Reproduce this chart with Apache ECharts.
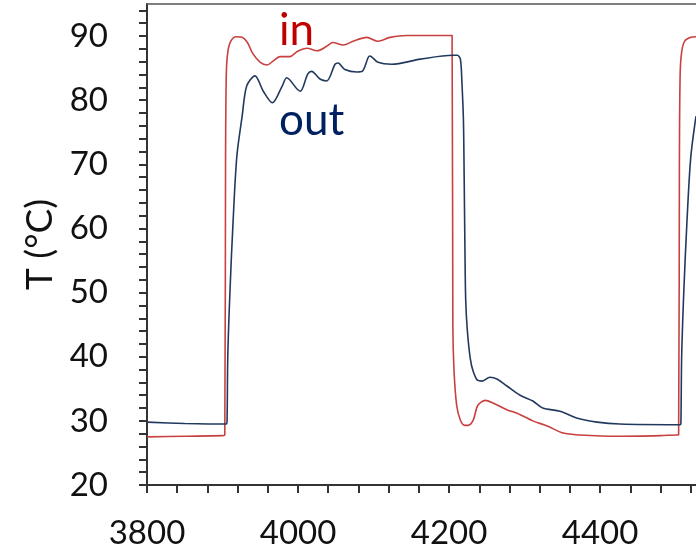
<!DOCTYPE html>
<html>
<head>
<meta charset="utf-8">
<script src="https://cdn.jsdelivr.net/npm/echarts@6/dist/echarts.min.js"></script>
<style>html,body{margin:0;padding:0;background:#fff}#c{width:696px;height:550px}</style>
</head>
<body>
<div id="c"></div>
<script>
// Data (time, temperature °C)
const timeIn = [3800, 3850, 3900, 3903, 3904, 3905, 3907, 3911, 3918, 3926, 3933, 3940, 3950, 3959, 3967, 3976, 3989, 3999, 4012, 4025, 4038, 4046, 4060, 4073, 4091, 4105, 4122, 4144, 4175, 4200, 4204, 4205, 4206.5, 4210, 4215, 4221, 4225, 4232, 4238, 4248, 4258, 4277, 4290, 4311, 4330, 4351, 4373, 4426, 4480, 4501, 4504, 4505, 4506, 4508, 4512, 4520, 4527];
const tempIn = [27.5, 27.6, 27.7, 27.8, 70, 84, 87.5, 89.2, 89.9, 89.8, 89.0, 87.3, 85.9, 85.5, 86.1, 86.8, 86.8, 87.6, 88.1, 87.7, 88.4, 89.0, 88.6, 89.2, 89.8, 89.2, 89.8, 90.1, 90.1, 90.1, 90.1, 45, 38, 32.5, 30.1, 29.3, 29.3, 30.1, 32.4, 33.2, 32.8, 31.7, 31.2, 30.0, 29.2, 28.1, 27.8, 27.6, 27.7, 27.8, 27.8, 70, 84, 87.5, 89.2, 89.8, 89.9];
const timeOut = [3800, 3850, 3905, 3906, 3907, 3910, 3914, 3919, 3926, 3932, 3943, 3954, 3966, 3979, 3985, 3999, 4003, 4013, 4018, 4029, 4038, 4049, 4053, 4062, 4078, 4085, 4093, 4095, 4106, 4124, 4162, 4205, 4211, 4215, 4217, 4219, 4220, 4221, 4222, 4224, 4228, 4232, 4238, 4244, 4254, 4264, 4277, 4294, 4311, 4324, 4347, 4370, 4396, 4426, 4503, 4506, 4507, 4508, 4511, 4515, 4520, 4527];
const tempOut = [29.8, 29.6, 29.5, 30, 40.2, 50.6, 61.1, 71.3, 77.5, 82.2, 83.8, 81.4, 79.6, 82.2, 83.5, 81.7, 81.4, 84.1, 84.5, 83.3, 83.0, 85.6, 85.8, 84.8, 84.4, 84.5, 86.7, 86.9, 85.9, 85.6, 86.4, 87.0, 87.0, 86.4, 82.8, 77, 68, 57, 49, 44.4, 39.8, 37.7, 36.3, 36.2, 36.8, 36.5, 35.4, 34.0, 33.1, 32.0, 31.5, 30.4, 29.8, 29.5, 29.4, 29.4, 29.6, 40, 50.6, 61, 71, 77.5];
const xLabels = [3800, 4000, 4200, 4400];
const yLabels = [20, 30, 40, 50, 60, 70, 80, 90];
const seriesNames = ['in', 'out'];

const FONT = 'Lato, "Open Sans", sans-serif';
const pairs = (t, v) => t.map((x, i) => [x, v[i]]);

const chart = echarts.init(document.getElementById('c'), null, {renderer: 'canvas'});
chart.setOption({
  animation: false,
  backgroundColor: '#fff',
  title: [
    {text: seriesNames[0], left: 279, top: 9, padding: 0,
     textStyle: {color: '#c00000', fontSize: 44, fontWeight: 'normal', fontFamily: FONT}},
    {text: seriesNames[1], left: 279, top: 99, padding: 0,
     textStyle: {color: '#002060', fontSize: 44, fontWeight: 'normal', fontFamily: FONT}}
  ],
  grid: {left: 147, right: 0, top: 4, bottom: 63, containLabel: false},
  xAxis: [{
    type: 'value', min: 3800, max: 4527, interval: 40,
    axisLine: {show: true, lineStyle: {color: '#333', width: 2}},
    axisTick: {show: true, length: 8, lineStyle: {color: '#333', width: 2}},
    splitLine: {show: false},
    axisLabel: {
      margin: 32, fontSize: 33, color: '#111', fontFamily: FONT,
      showMaxLabel: false,
      formatter: v => xLabels.includes(v) ? String(v) : ''
    }
  }, {
    type: 'value', position: 'top', min: 3800, max: 4527,
    axisLine: {show: true, lineStyle: {color: '#555', width: 1.5}},
    axisTick: {show: false}, axisLabel: {show: false}, splitLine: {show: false}
  }],
  yAxis: {
    type: 'value', min: 20, max: 95, interval: 2,
    name: 'T (°C)', nameLocation: 'middle', nameGap: 88,
    nameTextStyle: {fontSize: 37, color: '#111', fontFamily: FONT},
    axisLine: {show: true, lineStyle: {color: '#333', width: 2}},
    axisTick: {show: true, length: 8, lineStyle: {color: '#333', width: 2}},
    splitLine: {show: false},
    axisLabel: {
      margin: 39, fontSize: 33, color: '#111', fontFamily: FONT,
      showMaxLabel: false,
      formatter: v => yLabels.includes(v) ? String(v) : ''
    }
  },
  series: [
    {name: seriesNames[0], type: 'line', data: pairs(timeIn, tempIn), showSymbol: false,
     smooth: 0.3, lineStyle: {color: '#c8403f', width: 1.6}, z: 2},
    {name: seriesNames[1], type: 'line', data: pairs(timeOut, tempOut), showSymbol: false,
     smooth: 0.3, lineStyle: {color: '#22395e', width: 1.6}, z: 3}
  ]
});
</script>
</body>
</html>
